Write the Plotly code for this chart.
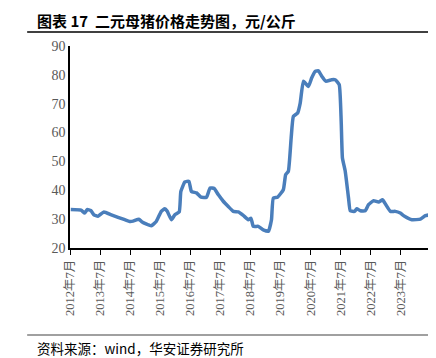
import plotly.graph_objects as go

dates = ["2012-07-10","2012-11-12","2012-12-27","2013-01-25","2013-03-10","2013-04-18","2013-06-06",
         "2013-08-18","2013-11-15","2014-04-28","2014-06-27","2014-08-06","2014-10-15","2014-11-24",
         "2015-03-15","2015-05-15","2015-07-15","2015-08-27","2015-09-24","2015-11-15","2015-12-27",
         "2016-02-18","2016-03-09","2016-04-27","2016-06-15","2016-07-15","2016-09-15","2016-11-09",
         "2017-01-15","2017-02-27","2017-04-18","2017-06-06","2017-08-06","2017-10-06","2017-12-06",
         "2018-02-06","2018-04-06","2018-06-06","2018-07-09","2018-08-06","2018-10-06","2018-12-06",
         "2019-02-06","2019-03-15","2019-04-06","2019-05-27","2019-08-06","2019-09-03","2019-10-06",
         "2019-11-09","2019-12-06","2020-01-27","2020-02-27","2020-04-06","2020-06-06","2020-07-15",
         "2020-08-27","2020-10-06","2020-11-15","2021-01-03","2021-03-15","2021-04-27","2021-06-15",
         "2021-07-09","2021-07-24","2021-08-27","2021-10-06","2021-10-27","2021-12-18","2022-01-15",
         "2022-02-27","2022-04-27","2022-06-06","2022-08-06","2022-10-06","2022-11-24","2023-01-03",
         "2023-02-27","2023-04-27","2023-06-27","2023-08-18","2023-11-15","2024-02-27","2024-04-27",
         "2024-06-20"]
prices = [33.3, 33.1, 32.1, 33.3, 33.0, 31.5, 31.0,
          32.5, 31.5, 29.8, 29.2, 29.3, 30.0, 29.0,
          27.7, 29.2, 32.7, 33.6, 32.8, 29.8, 31.5,
          32.5, 39.6, 42.9, 43.1, 39.6, 39.1, 37.6,
          37.6, 40.8, 40.6, 38.5, 36.2, 34.4, 32.7,
          32.5, 31.3, 29.8, 30.3, 27.5, 27.5, 26.3,
          25.8, 29.8, 37.3, 37.6, 40.2, 45.4, 46.6,
          58.1, 65.6, 66.8, 70.2, 77.8, 76.0, 78.9,
          81.2, 81.4, 79.5, 77.8, 78.3, 78.3, 76.6,
          63.9, 51.2, 46.6, 37.3, 32.9, 32.7, 33.6,
          32.9, 32.9, 35.0, 36.4, 35.9, 36.7, 35.0,
          32.7, 32.7, 32.1, 31.0, 29.8, 30.0, 31.2,
          31.5]

tick_vals = [f"{y}-07-01" for y in range(2012, 2024)]
tick_text = [f"{y}年7月" for y in range(2012, 2024)]
y_ticks = [20, 30, 40, 50, 60, 70, 80, 90]

title_text = "图表 17  二元母猪价格走势图，元/公斤"
source_text = "资料来源：wind，华安证券研究所"

fig = go.Figure()
fig.add_trace(go.Scatter(x=dates, y=prices, mode="lines",
                         line=dict(color="#4a7ebb", width=3.5, shape="spline", smoothing=0.4),
                         showlegend=False, hoverinfo="skip"))

fig.update_layout(
    width=436, height=358,
    margin=dict(l=62, r=14, t=38, b=118),
    paper_bgcolor="white", plot_bgcolor="white",
    font=dict(family="Liberation Serif, Noto Sans CJK SC", color="#595959", size=13),
    xaxis=dict(type="date", range=["2012-07-01", "2024-06-22"],
               tickvals=tick_vals, ticktext=tick_text, tickangle=-90,
               ticks="outside", ticklen=5, tickcolor="black", tickwidth=1,
               showline=True, linecolor="black", linewidth=1.5,
               showgrid=False, zeroline=False,
               tickfont=dict(family="Liberation Serif, Noto Sans CJK SC", size=12.5, color="#595959")),
    yaxis=dict(range=[20, 90], tickvals=y_ticks, ticks="", showline=True,
               linecolor="black", linewidth=1.5, showgrid=False, zeroline=False,
               tickfont=dict(family="Liberation Serif", size=14, color="#595959")),
    shapes=[
        dict(type="line", xref="paper", yref="paper", x0=-0.119, x1=1.04,
             y0=1.069, y1=1.069, line=dict(color="black", width=1.5)),
        dict(type="line", xref="paper", yref="paper", x0=-0.119, x1=1.04,
             y0=-0.431, y1=-0.431, line=dict(color="#808080", width=1.5)),
    ],
    annotations=[
        dict(text="<b>" + title_text + "</b>", xref="paper", yref="paper",
             x=-0.097, y=1.124, xanchor="left", yanchor="middle", showarrow=False,
             font=dict(family="Noto Sans CJK SC", size=15, color="black")),
        dict(text=source_text, xref="paper", yref="paper",
             x=-0.097, y=-0.495, xanchor="left", yanchor="middle", showarrow=False,
             font=dict(family="Noto Sans CJK SC", size=13.5, color="black")),
    ],
)

fig.write_html("out.html")
